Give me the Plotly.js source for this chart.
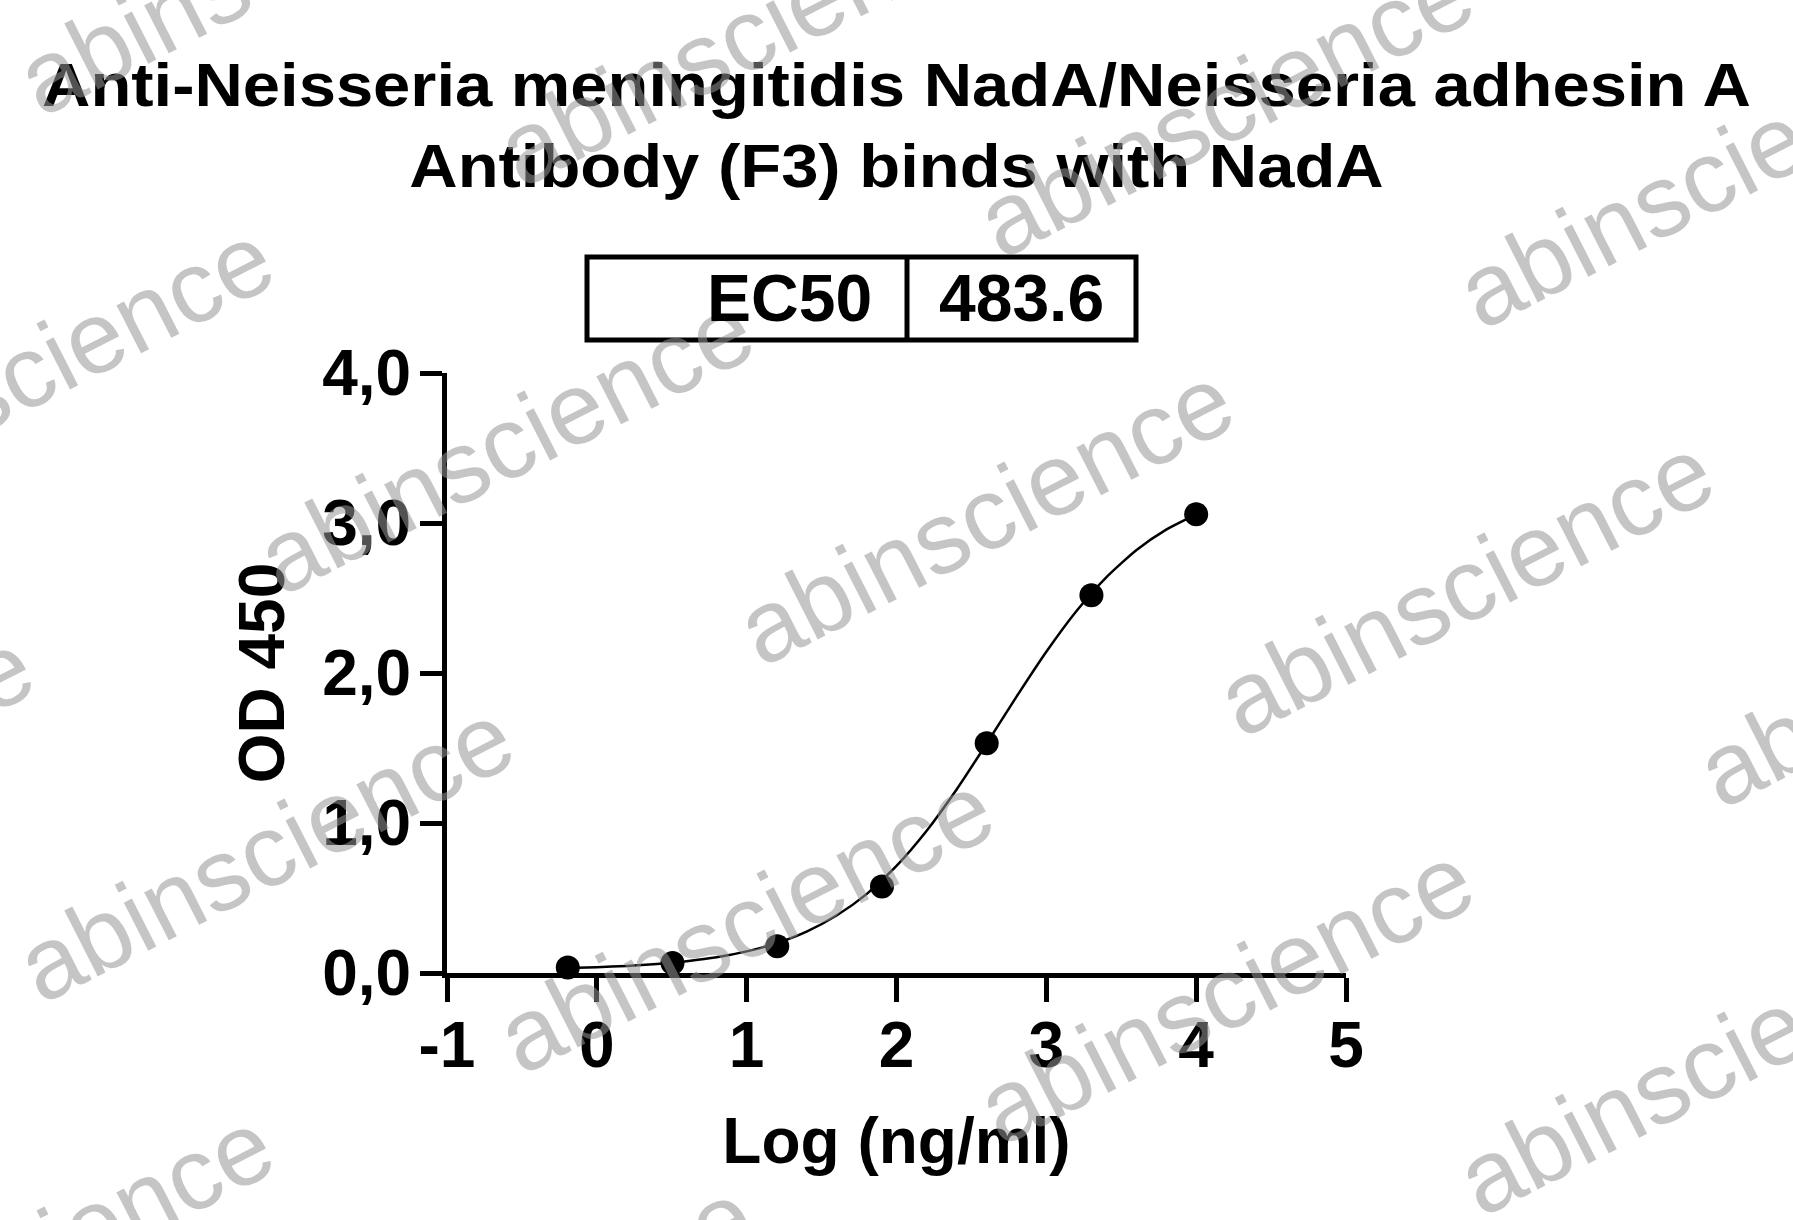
<!DOCTYPE html>
<html>
<head>
<meta charset="utf-8">
<script src="https://cdn.plot.ly/plotly-3.0.1.min.js"></script>
<style>
  html, body { margin: 0; padding: 0; background: #ffffff; }
  #chart { width: 1793px; height: 1220px; }
  #chart .gtitle { transform-box: fill-box; transform-origin: center; transform: scaleX(1.08); }
</style>
</head>
<body>
<div id="chart"></div>
<script>
// ---- Data ----
const titleLines = ["Anti-Neisseria meningitidis NadA/Neisseria adhesin A", "Antibody (F3) binds with NadA"];
const logConc = [-0.194, 0.505, 1.204, 1.903, 2.602, 3.301, 4.0];
const od450 = [0.037, 0.067, 0.178, 0.576, 1.532, 2.518, 3.058];
const fitX = [-0.194, 0, 0.2, 0.4, 0.6, 0.8, 1.0, 1.2, 1.4, 1.6, 1.8, 2.0, 2.2, 2.4, 2.6, 2.8, 3.0, 3.2, 3.4, 3.6, 3.8, 4.0];
const fitY = [0.033, 0.039, 0.047, 0.060, 0.079, 0.105, 0.144, 0.199, 0.276, 0.383, 0.526, 0.714, 0.947, 1.222, 1.527, 1.841, 2.142, 2.412, 2.638, 2.819, 2.956, 3.058];
const xTickVals = [-1, 0, 1, 2, 3, 4, 5];
const xTickText = ["-1", "0", "1", "2", "3", "4", "5"];
const yTickVals = [0, 1, 2, 3, 4];
const yTickText = ["0,0", "1,0", "2,0", "3,0", "4,0"];
const tableLabel = "EC50";
const tableValue = "483.6";
const watermarkText = "abinscience";

// ---- Layout geometry (pixels) ----
const W = 1793, H = 1220;
const M = { l: 447, r: 447, t: 373, b: 247 };
const PW = W - M.l - M.r, PH = H - M.t - M.b;
const px = x => (x - M.l) / PW;        // page px -> paper x
const py = y => (H - M.b - y) / PH;    // page px -> paper y

const FONT = "Liberation Sans, Arial, Helvetica, sans-serif";
const bold = (size) => ({ family: FONT, size: size, color: "#000000", weight: "bold" });

const traces = [
  {
    x: fitX, y: fitY, type: "scatter", mode: "lines",
    line: { color: "#000000", width: 2.5, shape: "spline", smoothing: 0.6 },
    hoverinfo: "skip", showlegend: false
  },
  {
    x: logConc, y: od450, type: "scatter", mode: "markers",
    marker: { color: "#000000", size: 24, line: { width: 0 } },
    cliponaxis: false, showlegend: false
  }
];

// watermark tiling (decoration)
const annotations = [];
const base = { x: 985, y: 515 }, stepA = { x: 480, y: 71 }, stepB = { x: -240, y: 408 };
for (let i = -4; i <= 4; i++) {
  for (let j = -3; j <= 3; j++) {
    const cx = base.x + i * stepA.x + j * stepB.x;
    const cy = base.y + i * stepA.y + j * stepB.y;
    if (cx < -350 || cx > W + 350 || cy < -250 || cy > H + 250) continue;
    annotations.push({
      xref: "paper", yref: "paper", x: px(cx), y: py(cy),
      xanchor: "center", yanchor: "middle", showarrow: false,
      text: watermarkText, textangle: -27,
      font: { family: FONT, size: 102, color: "rgba(150,150,150,0.55)" }
    });
  }
}

// EC50 table text
annotations.push({
  xref: "paper", yref: "paper", x: px(874), y: py(298),
  xanchor: "right", yanchor: "middle", showarrow: false,
  text: tableLabel, font: bold(66)
});
annotations.push({
  xref: "paper", yref: "paper", x: px(1021), y: py(298),
  xanchor: "center", yanchor: "middle", showarrow: false,
  text: tableValue, font: bold(66)
});

const boxLine = { color: "#000000", width: 5 };
const shapes = [
  { type: "rect", xref: "paper", yref: "paper", x0: px(587), x1: px(1136), y0: py(340), y1: py(257), line: boxLine, fillcolor: "rgba(0,0,0,0)" },
  { type: "line", xref: "paper", yref: "paper", x0: px(907), x1: px(907), y0: py(340), y1: py(257), line: boxLine }
];

const layout = {
  width: W, height: H,
  margin: M,
  paper_bgcolor: "#ffffff", plot_bgcolor: "#ffffff",
  showlegend: false,
  title: {
    text: titleLines.join("<br>"),
    font: bold(62),
    x: 0.5, xref: "container", xanchor: "center",
    y: 1 - 106 / H, yref: "container", yanchor: "top"
  },
  xaxis: {
    range: [-1, 5], tickmode: "array", tickvals: xTickVals, ticktext: xTickText,
    showgrid: false, zeroline: false, showline: true, linecolor: "#000000", linewidth: 5,
    ticks: "outside", ticklen: 24, tickwidth: 5, tickcolor: "#000000",
    tickfont: bold(64), ticklabelstandoff: -12,
    title: { text: "Log (ng/ml)", font: bold(64), standoff: 40 },
    automargin: false, fixedrange: true
  },
  yaxis: {
    range: [0, 4], tickmode: "array", tickvals: yTickVals, ticktext: yTickText,
    showgrid: false, zeroline: false, showline: true, linecolor: "#000000", linewidth: 5,
    ticks: "outside", ticklen: 22, tickwidth: 5, tickcolor: "#000000",
    tickfont: bold(64), ticklabelstandoff: -4,
    title: { text: "OD 450", font: bold(64), standoff: 18 },
    automargin: false, fixedrange: true
  },
  annotations: annotations,
  shapes: shapes
};

Plotly.newPlot("chart", traces, layout, { staticPlot: true, displayModeBar: false });
</script>
</body>
</html>
